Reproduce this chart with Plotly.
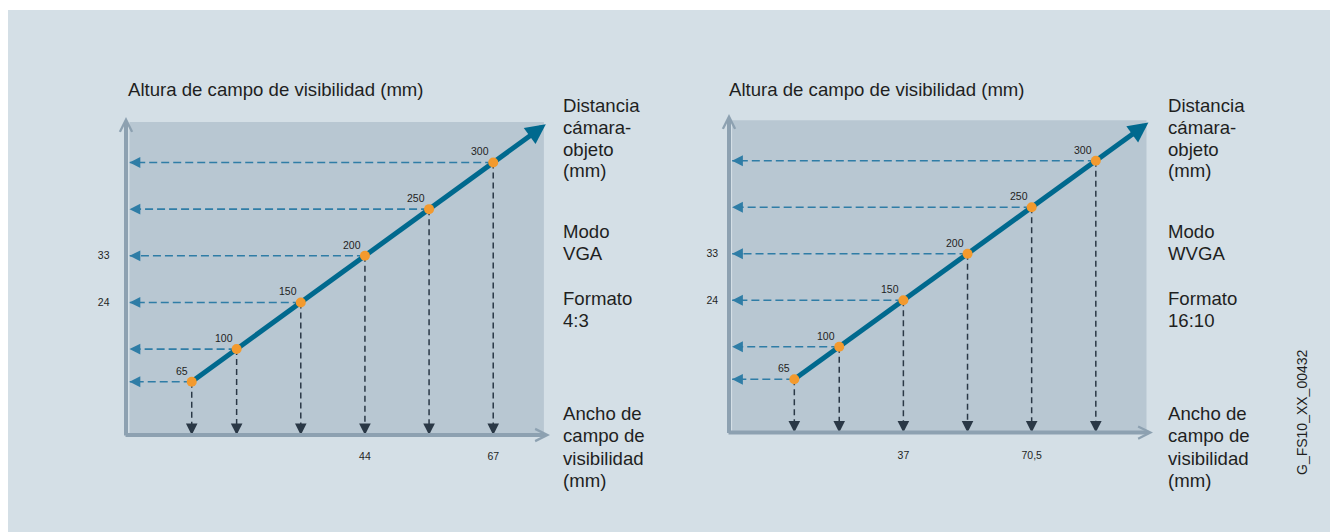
import plotly.graph_objects as go

# Camera-to-object distances (mm) marked along each diagonal
distances = [65, 100, 150, 200, 250, 300]
distance_labels = ["65", "100", "150", "200", "250", "300"]

# Field-of-view values printed next to the axes, keyed by distance
vga_height_ticks = [200, 150]
vga_height_text = ["33", "24"]
vga_width_ticks = [200, 300]
vga_width_text = ["44", "67"]

wvga_height_ticks = [200, 150]
wvga_height_text = ["33", "24"]
wvga_width_ticks = [150, 250]
wvga_width_text = ["37", "70,5"]

# Side captions
vga_notes = ["Modo", "VGA", "Formato", "4:3"]
wvga_notes = ["Modo", "WVGA", "Formato", "16:10"]
y_title = "Altura de campo de visibilidad (mm)"
dist_title = ["Distancia", "cámara-", "objeto", "(mm)"]
x_title = ["Ancho de", "campo de", "visibilidad", "(mm)"]
doc_id = "G_FS10_XX_00432"

W, H = 1330, 532
FONT = "Liberation Sans, Arial, sans-serif"
TXT = "#1f1f1f"
BG = "#d4dfe6"
PANEL = "#b8c7d2"
AXIS = "#8da1b1"
TEAL = "#00698e"
ORANGE = "#f39a2e"
BLUE_DASH = "#2f7da6"
DARK_DASH = "#2a3846"

X_RANGE = [16.5, 339.5]
Y_RANGE = [7.8, 343.5]
ARROW_END = 341


def px(x):
    return x / W


def py(y):
    return 1 - y / H


panels = [
    dict(xa="x", ya="y", xdom=(129.5, 543.9), ydom=(121.9, 435.1),
         htick=vga_height_ticks, htext=vga_height_text,
         wtick=vga_width_ticks, wtext=vga_width_text,
         notes=vga_notes, yaxis_x=126, xaxis_y=435, ytip=117, xtip=550,
         title_x=126, side_x=560.5, ystand=19, xstand=13),
    dict(xa="x2", ya="y2", xdom=(732.1, 1146.5), ydom=(120.3, 432.5),
         htick=wvga_height_ticks, htext=wvga_height_text,
         wtick=wvga_width_ticks, wtext=wvga_width_text,
         notes=wvga_notes, yaxis_x=729, xaxis_y=432.6, ytip=114, xtip=1153,
         title_x=727, side_x=1165.5, ystand=13, xstand=15),
]

fig = go.Figure()
shapes = [dict(type="rect", xref="paper", yref="paper", x0=px(8), x1=1,
               y0=0, y1=py(10), fillcolor=BG, line_width=0, layer="below")]
annotations = []
layout_axes = {}
small = dict(family=FONT, size=10.5, color=TXT)
big = dict(family=FONT, size=18.6, color=TXT)

for i, p in enumerate(panels):
    suffix = "" if i == 0 else "2"
    xa, ya = p["xa"], p["ya"]

    layout_axes["xaxis" + suffix] = dict(
        domain=[px(p["xdom"][0]), px(p["xdom"][1])], range=X_RANGE,
        anchor=ya, showgrid=False, zeroline=False, showline=False, ticks="",
        tickvals=p["wtick"], ticktext=p["wtext"], ticklabelstandoff=p["xstand"],
        tickfont=small, fixedrange=True)
    layout_axes["yaxis" + suffix] = dict(
        domain=[py(p["ydom"][1]), py(p["ydom"][0])], range=Y_RANGE,
        anchor=xa, showgrid=False, zeroline=False, showline=False, ticks="",
        tickvals=p["htick"], ticktext=p["htext"], ticklabelstandoff=p["ystand"],
        tickfont=small, fixedrange=True)

    # shaded plotting panel
    shapes.append(dict(type="rect", xref=xa + " domain", yref=ya + " domain",
                       x0=0, x1=1, y0=0, y1=1, fillcolor=PANEL, line_width=0,
                       layer="below"))

    # dashed guides to the height axis
    hx, hy = [], []
    for d in distances:
        hx += [d, X_RANGE[0], None]
        hy += [d, d, None]
    fig.add_trace(go.Scatter(x=hx, y=hy, xaxis=xa, yaxis=ya, mode="lines",
                             line=dict(color=BLUE_DASH, width=1.6, dash="8px,4px"),
                             hoverinfo="skip", showlegend=False))
    # dashed guides to the width axis
    vx, vy = [], []
    for d in distances:
        vx += [d, d, None]
        vy += [d, Y_RANGE[0], None]
    fig.add_trace(go.Scatter(x=vx, y=vy, xaxis=xa, yaxis=ya, mode="lines",
                             line=dict(color=DARK_DASH, width=1.5, dash="6px,4px"),
                             hoverinfo="skip", showlegend=False))

    # distance diagonal
    fig.add_trace(go.Scatter(x=[distances[0], ARROW_END - 8],
                             y=[distances[0], ARROW_END - 8],
                             xaxis=xa, yaxis=ya, mode="lines",
                             line=dict(color=TEAL, width=5),
                             hoverinfo="skip", showlegend=False))
    fig.add_trace(go.Scatter(x=distances, y=distances, xaxis=xa, yaxis=ya,
                             mode="markers",
                             marker=dict(color=ORANGE, size=10, line_width=0),
                             hoverinfo="skip", showlegend=False))

    annotations.append(dict(x=ARROW_END, y=ARROW_END, xref=xa, yref=ya,
                            ax=ARROW_END - 14, ay=ARROW_END - 14,
                            axref=xa, ayref=ya, text="", showarrow=True,
                            arrowhead=2, arrowsize=0.8, arrowwidth=5,
                            arrowcolor=TEAL))

    for d, lab in zip(distances, distance_labels):
        annotations.append(dict(x=d, y=d, xref=xa, yref=ya, text=lab,
                                showarrow=False, xanchor="right",
                                yanchor="bottom", xshift=-2, yshift=3,
                                font=small))
        # arrowheads at the ends of the guides
        annotations.append(dict(x=0, y=d, xref=xa + " domain", yref=ya,
                                ax=12, ay=0, text="", showarrow=True,
                                arrowhead=2, arrowsize=1.35, arrowwidth=1.6,
                                arrowcolor=BLUE_DASH, standoff=0))
        annotations.append(dict(x=d, y=0, xref=xa, yref=ya + " domain",
                                ax=0, ay=-12, text="", showarrow=True,
                                arrowhead=2, arrowsize=1.45, arrowwidth=1.6,
                                arrowcolor=DARK_DASH, standoff=0))

    # axis arrows
    annotations.append(dict(x=px(p["yaxis_x"]), y=py(p["ytip"]), xref="paper",
                            yref="paper", ax=0, ay=p["xaxis_y"] - p["ytip"] + 2,
                            text="", showarrow=True, arrowhead=5,
                            arrowsize=0.6, arrowwidth=4, arrowcolor=AXIS))
    annotations.append(dict(x=px(p["xtip"]), y=py(p["xaxis_y"]), xref="paper",
                            yref="paper", ax=-(p["xtip"] - p["yaxis_x"] + 2),
                            ay=0, text="", showarrow=True, arrowhead=5,
                            arrowsize=0.6, arrowwidth=4, arrowcolor=AXIS))

    # texts
    annotations.append(dict(x=px(p["title_x"]), y=py(89), xref="paper",
                            yref="paper", text=y_title, showarrow=False,
                            xanchor="left", yanchor="middle", font=big))
    side_lines = list(zip(dist_title, [105, 127, 149, 171])) + \
        list(zip(p["notes"], [231, 253, 298, 320])) + \
        list(zip(x_title, [413, 435, 458, 480]))
    for t, yy in side_lines:
        annotations.append(dict(x=px(p["side_x"]), y=py(yy), xref="paper",
                                yref="paper", text=t, showarrow=False,
                                xanchor="left", yanchor="middle", font=big))

annotations.append(dict(x=px(1302), y=py(412), xref="paper", yref="paper",
                        text=doc_id, textangle=-90, showarrow=False,
                        xanchor="center", yanchor="middle",
                        font=dict(family=FONT, size=14, color=TXT)))

fig.update_layout(width=W, height=H, margin=dict(l=0, r=0, t=0, b=0),
                  paper_bgcolor="white", plot_bgcolor="rgba(0,0,0,0)",
                  shapes=shapes, annotations=annotations, showlegend=False,
                  **layout_axes)

fig.write_html("out.html", config=dict(displayModeBar=False))
